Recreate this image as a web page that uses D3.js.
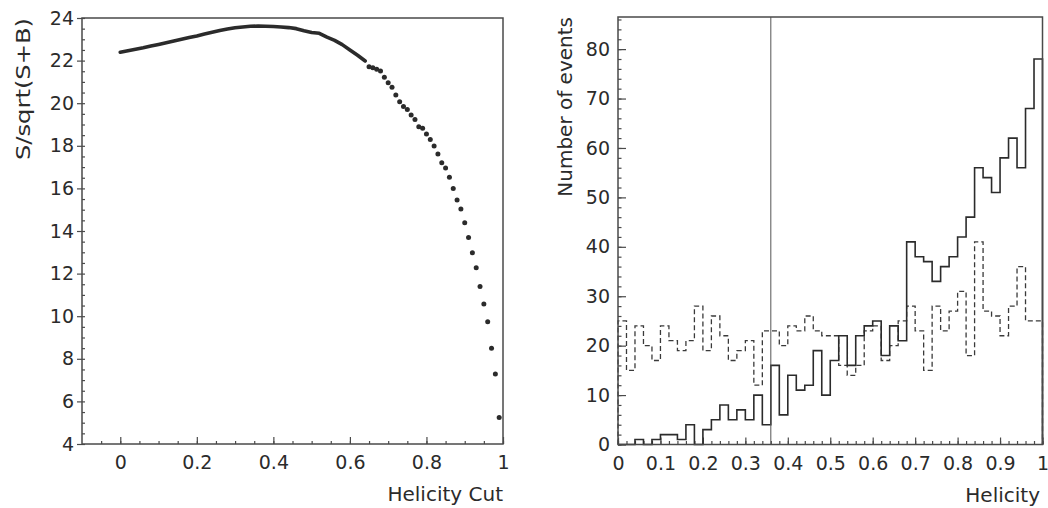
<!DOCTYPE html>
<html>
<head>
<meta charset="utf-8">
<script src="https://cdn.jsdelivr.net/npm/d3@7"></script>
<style>
  html, body { margin: 0; padding: 0; background: #fff; }
  svg { display: block; }
  text { font-family: "DejaVu Sans", sans-serif; fill: #2b2b2b; }
</style>
</head>
<body>
<svg id="chart" width="1048" height="508"></svg>
<script>
// Significance S/sqrt(S+B) versus helicity cut: densely sampled part (drawn as a line)
const lineCuts = [0.00, 0.02, 0.04, 0.06, 0.08, 0.10, 0.12, 0.14, 0.16, 0.18,
                  0.20, 0.22, 0.24, 0.26, 0.28, 0.30, 0.32, 0.34, 0.36, 0.38,
                  0.40, 0.42, 0.44, 0.46, 0.48, 0.50, 0.52, 0.54, 0.56, 0.58,
                  0.60, 0.62, 0.64];
const lineSignif = [22.39, 22.46, 22.53, 22.60, 22.68, 22.76, 22.84, 22.92, 23.00, 23.08,
                    23.16, 23.25, 23.33, 23.41, 23.48, 23.54, 23.58, 23.61, 23.62, 23.61,
                    23.60, 23.58, 23.55, 23.50, 23.40, 23.32, 23.28, 23.10, 22.95, 22.75,
                    22.50, 22.25, 21.98];

// Sparser part of the scan (drawn as markers)
const dotCuts = [0.65, 0.66, 0.67, 0.68, 0.69, 0.70, 0.71, 0.72, 0.73, 0.74,
                 0.75, 0.76, 0.77, 0.78, 0.79, 0.80, 0.81, 0.82, 0.83, 0.84,
                 0.85, 0.86, 0.87, 0.88, 0.89, 0.90, 0.91, 0.92, 0.93, 0.94,
                 0.95, 0.96, 0.97, 0.98, 0.99];
const dotSignif = [21.71, 21.67, 21.59, 21.51, 21.22, 20.96, 20.75, 20.38, 20.07, 19.84,
                   19.71, 19.45, 19.24, 18.90, 18.82, 18.55, 18.30, 17.99, 17.61, 17.21,
                   16.96, 16.52, 15.99, 15.46, 15.03, 14.39, 13.70, 12.98, 12.28, 11.39,
                   10.57, 9.74, 8.49, 7.29, 5.25];

const sigTicks = [4, 6, 8, 10, 12, 14, 16, 18, 20, 22, 24];
const cutTicks = [0, 0.2, 0.4, 0.6, 0.8, 1];
const cutTickLabels = ["0", "0.2", "0.4", "0.6", "0.8", "1"];

// Helicity distributions, 50 bins on [0, 1]
const signalCounts = [0, 0, 1, 0, 1, 2, 2, 1, 4, 0,
                      3, 5, 8, 5, 7, 5, 10, 4, 16, 6,
                      14, 11, 12, 19, 10, 17, 22, 16, 22, 24,
                      25, 18, 24, 21, 41, 38, 37, 33, 36, 38,
                      42, 46, 56, 54, 51, 58, 62, 56, 68, 78];
const backgroundCounts = [25, 15, 24, 20, 17, 24, 21, 19, 21, 28,
                          19, 26, 22, 17, 19, 21, 12, 23, 23, 20,
                          24, 23, 26, 23, 22, 22, 16, 14, 16, 23,
                          24, 17, 20, 25, 28, 23, 15, 28, 23, 27,
                          31, 18, 41, 27, 26, 22, 28, 36, 25, 25];
const helicityRange = [0, 1];
const helicityTicks = [0, 0.1, 0.2, 0.3, 0.4, 0.5, 0.6, 0.7, 0.8, 0.9, 1];
const helicityTickLabels = ["0", "0.1", "0.2", "0.3", "0.4", "0.5", "0.6", "0.7", "0.8", "0.9", "1"];
const eventTicks = [0, 10, 20, 30, 40, 50, 60, 70, 80];
const chosenCut = 0.36;

const svg = d3.select("#chart");
const ink = "#2b2b2b";
const frameInk = "#4a4a4a";

function styleAxis(g) {
  g.select(".domain").remove();
  g.selectAll(".tick line").attr("stroke", frameInk).attr("stroke-width", 1.2);
  g.selectAll(".tick text").attr("font-size", 19).attr("fill", ink)
    .attr("font-family", "DejaVu Sans, sans-serif");
}

// ---------- Left panel: significance scan ----------
const L = { left: 82, right: 503, top: 18, bottom: 444 };
const xL = d3.scaleLinear().domain([-0.1, 1]).range([L.left, L.right]);
const yL = d3.scaleLinear().domain([4, 24]).range([L.bottom, L.top]);

const gL = svg.append("g");

// minor ticks
gL.append("g").attr("transform", `translate(${L.left},0)`)
  .call(d3.axisRight(yL).tickValues(d3.range(4, 24.01, 0.5)).tickSize(3).tickFormat(""))
  .call(styleAxis);
gL.append("g").attr("transform", `translate(0,${L.bottom})`)
  .call(d3.axisBottom(xL).tickValues(d3.range(-0.05, 1.001, 0.05)).tickSize(-3).tickFormat(""))
  .call(styleAxis);

// major ticks + labels
gL.append("g").attr("transform", `translate(${L.left},0)`)
  .call(d3.axisLeft(yL).tickValues(sigTicks).tickSize(5).tickPadding(3).tickFormat(d3.format("d")))
  .call(styleAxis);
gL.append("g").attr("transform", `translate(0,${L.bottom})`)
  .call(d3.axisBottom(xL).tickValues(cutTicks).tickSize(-7).tickPadding(12)
        .tickFormat((d, i) => cutTickLabels[i]))
  .call(styleAxis);

gL.append("rect")
  .attr("x", L.left).attr("y", L.top)
  .attr("width", L.right - L.left).attr("height", L.bottom - L.top)
  .attr("fill", "none").attr("stroke", frameInk).attr("stroke-width", 1.5);

const scanLine = d3.line().x((d, i) => xL(lineCuts[i])).y(d => yL(d));
gL.append("path")
  .attr("d", scanLine(lineSignif))
  .attr("fill", "none").attr("stroke", ink)
  .attr("stroke-width", 3.6).attr("stroke-linecap", "round").attr("stroke-linejoin", "round");

gL.selectAll("circle.scan").data(dotSignif).join("circle")
  .attr("class", "scan")
  .attr("cx", (d, i) => xL(dotCuts[i])).attr("cy", d => yL(d))
  .attr("r", 2.5).attr("fill", ink);

gL.append("text")
  .attr("transform", `translate(30,${L.top}) rotate(-90)`)
  .attr("text-anchor", "end").attr("font-size", 20)
  .attr("textLength", 142).attr("lengthAdjust", "spacingAndGlyphs")
  .text("S/sqrt(S+B)");
gL.append("text")
  .attr("x", L.right).attr("y", 501)
  .attr("text-anchor", "end").attr("font-size", 20)
  .text("Helicity Cut");

// ---------- Right panel: helicity histograms ----------
const R = { left: 618, right: 1042.5, top: 17, bottom: 444.5 };
const xR = d3.scaleLinear().domain(helicityRange).range([R.left, R.right]);
const yR = d3.scaleLinear().domain([0, 86.5]).range([R.bottom, R.top]);

const gR = svg.append("g");

gR.append("g").attr("transform", `translate(${R.left},0)`)
  .call(d3.axisLeft(yR).tickValues(d3.range(0, 86.01, 2)).tickSize(-3.5).tickFormat(""))
  .call(styleAxis);
gR.append("g").attr("transform", `translate(0,${R.bottom})`)
  .call(d3.axisBottom(xR).tickValues(d3.range(0, 1.001, 0.02)).tickSize(-3.5).tickFormat(""))
  .call(styleAxis);

gR.append("g").attr("transform", `translate(${R.left},0)`)
  .call(d3.axisLeft(yR).tickValues(eventTicks).tickSize(-8).tickPadding(8).tickFormat(d3.format("d")))
  .call(styleAxis);
gR.append("g").attr("transform", `translate(0,${R.bottom})`)
  .call(d3.axisBottom(xR).tickValues(helicityTicks).tickSize(-7).tickPadding(12)
        .tickFormat((d, i) => helicityTickLabels[i]))
  .call(styleAxis);

// step outline of a binned distribution
function stepPath(counts) {
  const n = counts.length;
  const w = (helicityRange[1] - helicityRange[0]) / n;
  const p = d3.path();
  p.moveTo(xR(helicityRange[0]), yR(0));
  counts.forEach((c, i) => {
    const x0 = helicityRange[0] + i * w;
    p.lineTo(xR(x0), yR(c));
    p.lineTo(xR(x0 + w), yR(c));
  });
  p.lineTo(xR(helicityRange[1]), yR(0));
  return p.toString();
}

gR.append("path")
  .attr("d", stepPath(backgroundCounts))
  .attr("fill", "none").attr("stroke", "#3a3a3a").attr("stroke-width", 1.3)
  .attr("stroke-dasharray", "5,3");
gR.append("path")
  .attr("d", stepPath(signalCounts))
  .attr("fill", "none").attr("stroke", ink).attr("stroke-width", 1.6);

gR.append("line")
  .attr("x1", xR(chosenCut)).attr("x2", xR(chosenCut))
  .attr("y1", R.top).attr("y2", R.bottom)
  .attr("stroke", "#555").attr("stroke-width", 1);

gR.append("rect")
  .attr("x", R.left).attr("y", R.top)
  .attr("width", R.right - R.left).attr("height", R.bottom - R.top)
  .attr("fill", "none").attr("stroke", frameInk).attr("stroke-width", 1.5);

gR.append("text")
  .attr("transform", `translate(572,${R.top}) rotate(-90)`)
  .attr("text-anchor", "end").attr("font-size", 20)
  .text("Number of events");
gR.append("text")
  .attr("x", 1040).attr("y", 502)
  .attr("text-anchor", "end").attr("font-size", 20)
  .text("Helicity");
</script>
</body>
</html>
